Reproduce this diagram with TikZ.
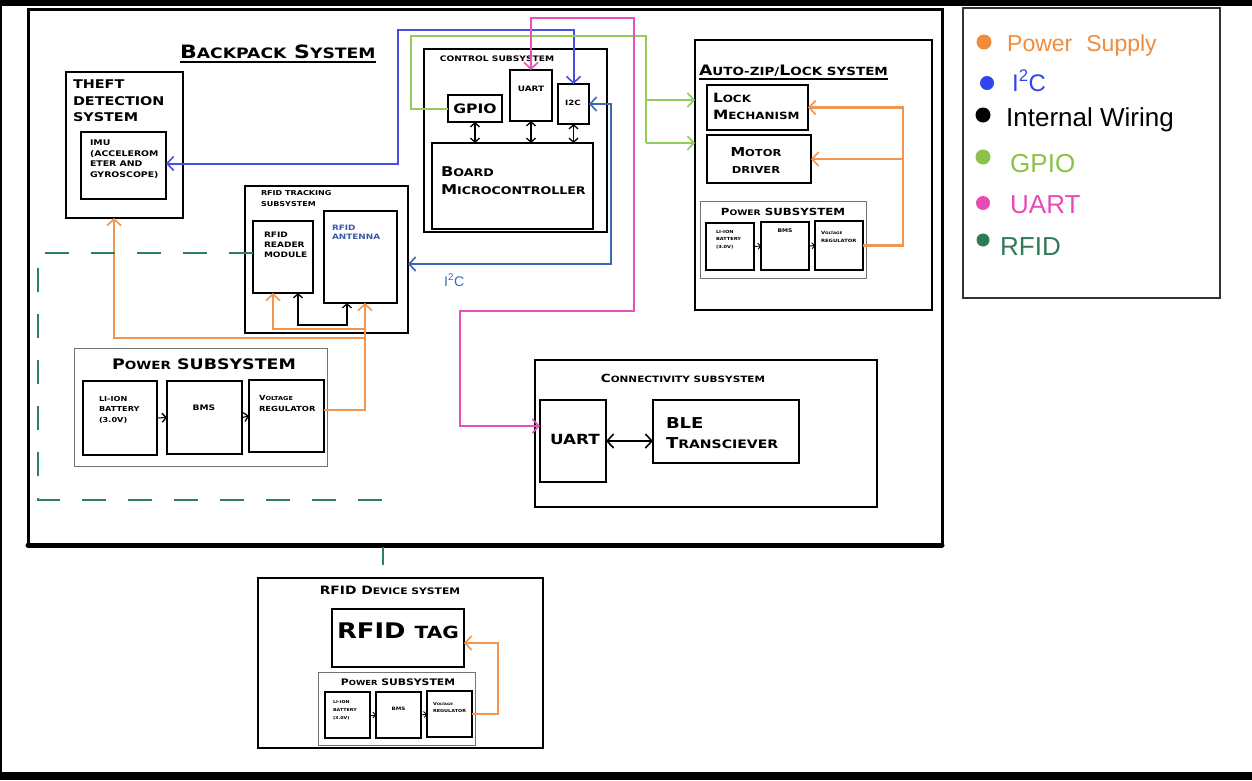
\documentclass[tikz,border=0pt]{standalone}
\usepackage{fontspec}
\setmainfont{DejaVu Sans}
\newfontfamily\cpf{DejaVu Sans}[FakeStretch=1.2]
\newfontfamily\hand{Liberation Sans}
\usepackage{graphicx}
\usetikzlibrary{arrows.meta,fit}
\newcommand\sca[2]{#1\scalebox{0.78}{#2}}
\newcommand\fsz[2]{\fontsize{#1}{#2}\selectfont}
\newcommand\bx[6]{\node[#1, fit={(#3,#4) (#5,#6)}] (#2) {};}
\definecolor{cpow}{RGB}{240,150,80}
\definecolor{ciic}{RGB}{70,80,225}
\definecolor{ciicb}{RGB}{60,105,180}
\definecolor{cgpio}{RGB}{145,205,90}
\definecolor{cuart}{RGB}{232,80,190}
\definecolor{crfid}{RGB}{47,128,96}
\definecolor{cant}{RGB}{60,90,170}
\definecolor{lorange}{RGB}{240,140,60}
\definecolor{lblue}{RGB}{50,68,238}
\definecolor{lgreen}{RGB}{139,195,74}
\definecolor{lpink}{RGB}{233,75,181}
\definecolor{lrfid}{RGB}{47,122,87}
\tikzset{
  box/.style={draw=black, line width=1.8pt, inner sep=0pt, outer sep=0pt},
  thinbox/.style={draw=black, line width=1.2pt, inner sep=0pt, outer sep=0pt},
  gbox/.style={draw=black!55, line width=1pt, inner sep=0pt, outer sep=0pt},
  txt/.style={inner sep=0pt, outer sep=0pt, align=left, anchor=north west, text=black},
  ctxt/.style={inner sep=0pt, outer sep=0pt, align=center, anchor=north, text=black},
  barb/.tip={Straight Barb[length=6.5pt,width=14pt,line width=1.6pt]},
  sbarb/.tip={Straight Barb[length=4pt,width=9pt,line width=1.3pt]},
  tbarb/.tip={Straight Barb[length=2.5pt,width=6pt,line width=0.9pt]},
  pw/.style={draw=cpow, line width=2.1pt, -barb},
  iicA/.style={draw=ciic, line width=2pt, barb-barb},
  iicB/.style={draw=ciicb, line width=2pt, barb-barb},
  gp/.style={draw=cgpio, line width=2pt, -barb},
  gpl/.style={draw=cgpio, line width=2pt},
  ua/.style={draw=cuart, line width=2pt, barb-barb},
  iw/.style={draw=black, line width=1.5pt, sbarb-sbarb},
  sw/.style={draw=black, line width=0.9pt, -tbarb},
  rf/.style={draw=crfid, line width=1.8pt, dash pattern=on 24pt off 22pt},
  rfs/.style={draw=crfid, line width=1.8pt},
}
\begin{document}
\begin{tikzpicture}[x=1pt,y=-1pt]
\useasboundingbox (0,0) rectangle (1252,780);
\fill[white] (0,0) rectangle (1252,780);
\fill[black] (0,0) rectangle (1252,6);
\fill[black] (0,772) rectangle (1252,780);
\fill[black] (0,0) rectangle (2,780);

% ---------------- backpack frame
\bx{box, line width=3pt}{backpack}{28}{9}{942}{545}
\draw[line width=5pt, line cap=round] (backpack.south west) -- (backpack.south east);
\node[txt, font=\cpf\bfseries\fsz{18.4}{22}] (tbp) at (180,45) {\sca{B}{ACKPACK} \sca{S}{YSTEM}};
\draw[line width=1.2pt] ([yshift=-3pt]tbp.south west) -- ([yshift=-3pt]tbp.south east);

% ---------------- theft detection
\bx{box, line width=2.6pt}{theft}{66}{72}{183}{218}
\node[txt, font=\cpf\bfseries\fsz{12}{16.5}] (ttheft) at (73,80) {THEFT\\DETECTION\\SYSTEM};
\bx{box}{imu}{81}{132}{166}{199}
\node[txt, font=\cpf\bfseries\fsz{7.8}{10.5}] (timu) at (90,140) {IMU\\(ACCELEROM\\ETER AND\\GYROSCOPE)};

% ---------------- control subsystem
\bx{box}{control}{424}{49}{607}{232}
\node[ctxt, font=\cpf\bfseries\fsz{7.6}{9}] (tcontrol) at (497,56) {CONTROL SUBSYSTEM};
\bx{box}{gpio}{448}{95}{502}{122}
\node[font=\cpf\bfseries\fsz{13}{15}, inner sep=0pt] (tgpio) at (gpio.center) {GPIO};
\bx{box}{uartc}{510}{70}{552}{121}
\node[ctxt, font=\cpf\bfseries\fsz{7.4}{9}] (tuartc) at (531,86) {UART};
\bx{box}{i2c}{558}{84}{589}{124}
\node[ctxt, font=\cpf\bfseries\fsz{7.2}{9}] (ti2c) at (573,100) {I2C};
\bx{box}{board}{432}{143}{593}{229}
\node[txt, font=\cpf\bfseries\fsz{13.5}{17.5}] (tboard) at (441,167) {\sca{B}{OARD}\\\sca{M}{ICROCONTROLLER}};
\draw[iw] (gpio.south) -- (gpio.south |- board.north);
\draw[iw] (uartc.south) -- (uartc.south |- board.north);
\draw[iw] (i2c.south) -- (i2c.south |- board.north);

% ---------------- auto-zip / lock
\bx{box}{autozip}{695}{40}{932}{310}
\node[txt, font=\cpf\bfseries\fsz{14.4}{16}] (tauto) at (699,65) {\sca{A}{UTO-ZIP/}\sca{L}{OCK SYSTEM}};
\draw[line width=1.2pt] ([yshift=-2.5pt]tauto.south west) -- ([yshift=-2.5pt]tauto.south east);
\bx{box}{lock}{707}{85}{808}{130}
\node[txt, font=\cpf\bfseries\fsz{12.8}{17}] (tlock) at (713,93) {\sca{L}{OCK}\\\sca{M}{ECHANISM}};
\bx{box}{motor}{707}{135}{811}{183}
\node[ctxt, font=\cpf\bfseries\fsz{12.3}{17}] (tmotor) at (756,148) {\sca{M}{OTOR}\\\scalebox{0.78}{DRIVER}};
\bx{gbox}{pwrB}{700}{201}{866}{278}
\node[ctxt, font=\cpf\bfseries\fsz{9.8}{11}] (tpwrB) at (783,208) {\sca{P}{OWER} SUBSYSTEM};
\bx{thinbox}{batB}{706}{223}{754}{270}
\bx{thinbox}{bmsB}{761}{222}{809}{270}
\bx{thinbox}{vrB}{815}{221}{863}{270}
\node[txt, font=\cpf\bfseries\fsz{4.2}{7.8}] (tbatB) at (716,230) {LI-ION\\BATTERY\\(3.0V)};
\node[ctxt, font=\cpf\bfseries\fsz{5}{6}] (tbmsB) at (785,229) {BMS};
\node[txt, font=\cpf\bfseries\fsz{4.4}{7.8}] (tvrB) at (821,231) {\sca{V}{OLTAGE}\\REGULATOR};
\draw[sw] (batB.east) -- (bmsB.west);
\draw[sw] (bmsB.east) -- (vrB.west);

% ---------------- legend
\bx{box, line width=1.3pt, draw=black!80}{legend}{963}{8}{1220}{298}
\fill[lorange] (984,42) circle (7.5);
\fill[lblue] (987,83) circle (7);
\fill[black] (983,115) circle (7.5);
\fill[lgreen] (983,157) circle (7.5);
\fill[lpink] (983,203) circle (7);
\fill[lrfid] (983,240) circle (6.5);
\node[anchor=base west, inner sep=0pt, text=lorange, font=\hand\fsz{23}{26}] (lg1) at (1007,51) {Power\hspace{14pt}Supply};
\node[anchor=base west, inner sep=0pt, text=lblue, font=\hand\fsz{24}{26}] (lg2) at (1012,91) {I\textsuperscript{2}C};
\node[anchor=base west, inner sep=0pt, text=black, font=\hand\fsz{26}{28}] (lg3) at (1006,126) {Internal Wiring};
\node[anchor=base west, inner sep=0pt, text=lgreen, font=\hand\fsz{26}{28}] (lg4) at (1010,172) {GPIO};
\node[anchor=base west, inner sep=0pt, text=lpink, font=\hand\fsz{26}{28}] (lg5) at (1010,213) {UART};
\node[anchor=base west, inner sep=0pt, text=lrfid, font=\hand\fsz{26}{28}] (lg6) at (1000,255) {RFID};

% ---------------- RFID tracking
\bx{box}{rfidtrack}{245}{186}{408}{333}
\node[txt, font=\cpf\bfseries\fsz{6.7}{10.5}] (ttrack) at (261,191) {RFID TRACKING\\SUBSYSTEM};
\bx{box}{reader}{253}{221}{313}{293}
\node[txt, font=\cpf\bfseries\fsz{7.5}{10.2}] (treader) at (264,232) {RFID\\READER\\MODULE};
\bx{box}{antenna}{324}{211}{397}{303}
\node[txt, text=cant, font=\cpf\bfseries\fsz{7.4}{9.5}] (tant) at (332,225) {RFID\\ANTENNA};

% ---------------- main power subsystem
\bx{gbox}{pwrA}{74}{348}{327}{466}
\node[ctxt, font=\cpf\bfseries\fsz{14.5}{16}] (tpwrA) at (204,359) {\sca{P}{OWER} SUBSYSTEM};
\bx{box}{batA}{83}{381}{157}{455}
\bx{box}{bmsA}{167}{381}{242}{454}
\bx{box}{vrA}{249}{380}{324}{452}
\node[txt, font=\cpf\bfseries\fsz{6.8}{10.6}] (tbatA) at (99,396) {LI-ION\\BATTERY\\(3.0V)};
\node[ctxt, font=\cpf\bfseries\fsz{7.6}{9}] (tbmsA) at (204,405) {BMS};
\node[txt, font=\cpf\bfseries\fsz{7}{11.5}] (tvrA) at (259,395) {\sca{V}{OLTAGE}\\REGULATOR};
\draw[sw, line width=1.1pt, -sbarb] (batA.east) -- (bmsA.west);
\draw[sw, line width=1.1pt, -sbarb] (bmsA.east) -- (vrA.west);

% ---------------- connectivity
\bx{box}{conn}{535}{360}{877}{507}
\node[ctxt, font=\cpf\bfseries\fsz{11.2}{13}] (tconn) at (683,374) {\sca{C}{ONNECTIVITY SUBSYSTEM}};
\bx{box}{uartb}{540}{400}{606}{482}
\node[txt, font=\cpf\bfseries\fsz{14}{16}] (tuartb) at (550,434) {UART};
\bx{box}{ble}{653}{400}{799}{463}
\node[txt, font=\cpf\bfseries\fsz{15}{20}] (tble) at (666,418) {BLE\\\sca{T}{RANSCIEVER}};
\draw[iw, line width=1.5pt, barb-barb] (uartb.east) -- (uartb.east -| ble.west);

% ---------------- RFID device system
\bx{thinbox}{dev}{258}{578}{543}{748}
\node[ctxt, font=\cpf\bfseries\fsz{11.5}{13}] (tdev) at (390,586) {RFID \sca{D}{EVICE SYSTEM}};
\bx{box}{tag}{332}{609}{464}{667}
\node[ctxt, font=\cpf\bfseries\fsz{21.5}{24}] (ttag) at (398,623) {RFID \scalebox{0.78}{TAG}};
\bx{gbox}{pwrC}{318}{672}{475}{745}
\node[ctxt, font=\cpf\bfseries\fsz{9}{10}] (tpwrC) at (398,679) {\sca{P}{OWER} SUBSYSTEM};
\bx{thinbox}{batC}{325}{692}{370}{738}
\bx{thinbox}{bmsC}{376}{692}{421}{738}
\bx{thinbox}{vrC}{427}{691}{472}{737}
\node[txt, font=\cpf\bfseries\fsz{4}{7.8}] (tbatC) at (333,701) {LI-ION\\BATTERY\\(3.0V)};
\node[ctxt, font=\cpf\bfseries\fsz{4.6}{6}] (tbmsC) at (398.5,707) {BMS};
\node[txt, font=\cpf\bfseries\fsz{4.1}{7.5}] (tvrC) at (433,702) {\sca{V}{OLTAGE}\\REGULATOR};
\draw[sw] (batC.east) -- (bmsC.west);
\draw[sw] (bmsC.east) -- (vrC.west);

% ---------------- power wires
\draw[pw] ([yshift=6pt]vrA.east) -| ([xshift=4.5pt]antenna.south);
\coordinate (pj1) at (365,338);
\coordinate (pj2) at (365,329);
\draw[pw] (pj1) -| ([xshift=-10.5pt]theft.south);
\draw[pw] (pj2) -| ([xshift=-10pt]reader.south);
\draw[pw] (vrB.east) -| (903,107.5) -- (lock.east);
\coordinate (pj3) at (903,159);
\draw[pw] (pj3) -- (motor.east);
\draw[pw] (vrC.east) -| (498,643) -- ([yshift=-5pt]tag.east);

% ---------------- internal wiring RFID
\draw[iw] ([xshift=15pt]reader.south) -- ++(0,32) -| ([xshift=-13.5pt]antenna.south);

% ---------------- I2C wires
\draw[iicA] ([yshift=2pt]imu.east) -| (398,30) -| (i2c.north);
\draw[iicB] (i2c.east) -- ++(22,0) |- ([yshift=-4.5pt]rfidtrack.east);
\node[anchor=base west, inner sep=0pt, text=ciicb, font=\hand\fsz{14}{16}] (li2c) at (444,286) {I\textsuperscript{2}C};

% ---------------- GPIO wires
\coordinate (gj1) at (646,100);
\coordinate (gj2) at (646,143);
\draw[gpl] (gpio.west) -| (411,36) -- (646,36) -- (gj2);
\draw[gp] (gj1) -- (autozip.west |- gj1);
\draw[gp] (gj2) -- (autozip.west |- gj2);

% ---------------- UART wire
\draw[ua] (uartc.north) |- (634,18) -- (634,311) -| (460,426) -- ([yshift=15pt]uartb.west);

% ---------------- RFID wire
\coordinate (ra) at (383,520);
\coordinate (rb) at (383,547);
\coordinate (rc) at (383,565);
\draw[rf] ([yshift=4pt]reader.west) -- (38,253) -- (38,500) -- (383,500) -- (ra);
\draw[rfs] (rb) -- (rc);
\end{tikzpicture}
\end{document}
